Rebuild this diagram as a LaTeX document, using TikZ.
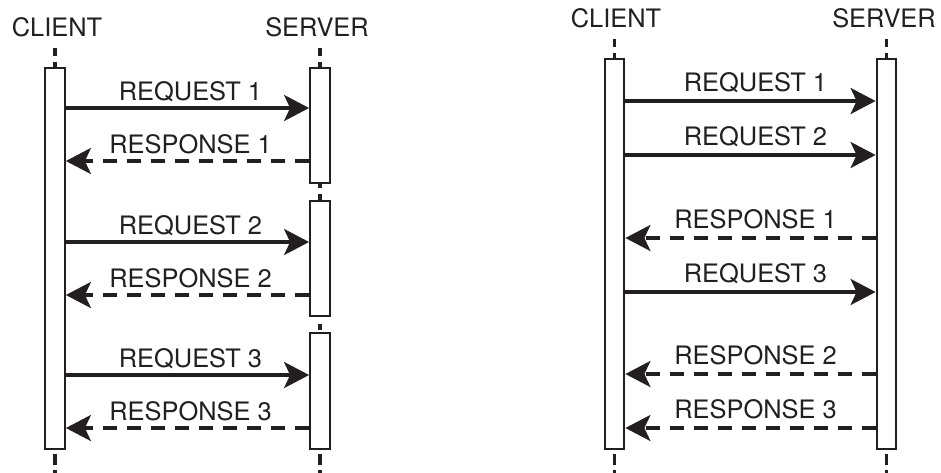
\documentclass[tikz,border=0pt]{standalone}
\usepackage{fontspec}
\setmainfont{TeX Gyre Heros}
\usetikzlibrary{arrows.meta}
\definecolor{ink}{RGB}{35,31,32}
\begin{document}
\begin{tikzpicture}[x=1pt,y=-1pt,
  lifebox/.style={draw=ink, fill=white, line width=2.3pt, minimum width=19.5pt,
    inner sep=0pt, anchor=north},
  lab/.style={font=\fontsize{25.4}{30}\selectfont, text=ink, inner sep=0pt, anchor=base},
  req/.style={draw=ink, line width=3.2pt, -{Stealth[length=25pt,width=26pt,inset=6pt]}},
  resp/.style={req, dash pattern=on 14pt off 10pt},
  life/.style={draw=ink, line width=3.4pt},
  lftlab/.style={lab, yshift=8pt, xshift=3pt},
  rgtlab/.style={lab, yshift=10pt, xshift=5pt}]
\useasboundingbox (0,0) rectangle (941,472);

% ---------- sequential exchange ----------
\node[lab] (lch) at (57,36) {CLIENT};
\node[lab] (lsh) at (317,36) {SERVER};

\draw[life, dash pattern=on 8pt off 6pt] (55,48) coordinate (lctop) -- (55,67);
\draw[life, dash pattern=on 8pt off 6pt] (320,48) coordinate (lstop) -- (320,67);

\node[lifebox, minimum height=381pt] (lc) at (55,67) {};
\node[lifebox, minimum height=115pt] (ls1) at (320,67) {};
\node[lifebox, minimum height=115pt] (ls2) at (320,200) {};
\node[lifebox, minimum height=116pt] (ls3) at (320,332) {};

\draw[life, dash pattern=on 4pt off 6pt on 10pt off 6pt] (ls1.south) -- (ls2.north);
\draw[life, dash pattern=on 6pt off 7pt, dash phase=6pt] (ls2.south) -- (ls3.north);
\draw[life, dash pattern=on 11pt off 5pt, dash phase=12pt] (lc.south) -- ++(0,30) coordinate (lcend);
\draw[life, dash pattern=on 11pt off 5pt, dash phase=12pt] (ls3.south) -- ++(0,30) coordinate (lsend);

\draw[req]  (lc.east |- 0,108) -- node[lftlab] {REQUEST 1}  (ls1.west |- 0,108);
\draw[resp] (ls1.west |- 0,161) -- node[lftlab] {RESPONSE 1} (lc.east |- 0,161);
\draw[req]  (lc.east |- 0,242) -- node[lftlab] {REQUEST 2}  (ls2.west |- 0,242);
\draw[resp] (ls2.west |- 0,295) -- node[lftlab] {RESPONSE 2} (lc.east |- 0,295);
\draw[req]  (lc.east |- 0,375) -- node[lftlab] {REQUEST 3}  (ls3.west |- 0,375);
\draw[resp] (ls3.west |- 0,428) -- node[lftlab] {RESPONSE 3} (lc.east |- 0,428);

% ---------- pipelined exchange ----------
\node[lab] (rch) at (616,27) {CLIENT};
\node[lab] (rsh) at (884,27) {SERVER};

\draw[life, dash pattern=on 8pt off 6pt] (614.5,39) coordinate (rctop) -- (614.5,58);
\draw[life, dash pattern=on 8pt off 6pt] (886.5,39) coordinate (rstop) -- (886.5,58);

\node[lifebox, minimum height=390pt] (rc) at (614.5,58) {};
\node[lifebox, minimum height=390pt] (rs) at (886.5,58) {};

\draw[life, dash pattern=on 11pt off 5pt, dash phase=12pt] (rc.south) -- ++(0,30) coordinate (rcend);
\draw[life, dash pattern=on 11pt off 5pt, dash phase=12pt] (rs.south) -- ++(0,30) coordinate (rsend);

\draw[req]  (rc.east |- 0,101) -- node[rgtlab] {REQUEST 1}  (rs.west |- 0,101);
\draw[req]  (rc.east |- 0,155) -- node[rgtlab] {REQUEST 2}  (rs.west |- 0,155);
\draw[resp] (rs.west |- 0,238) -- node[rgtlab] {RESPONSE 1} (rc.east |- 0,238);
\draw[req]  (rc.east |- 0,292) -- node[rgtlab] {REQUEST 3}  (rs.west |- 0,292);
\draw[resp] (rs.west |- 0,374) -- node[rgtlab] {RESPONSE 2} (rc.east |- 0,374);
\draw[resp] (rs.west |- 0,428) -- node[rgtlab] {RESPONSE 3} (rc.east |- 0,428);
\end{tikzpicture}
\end{document}
